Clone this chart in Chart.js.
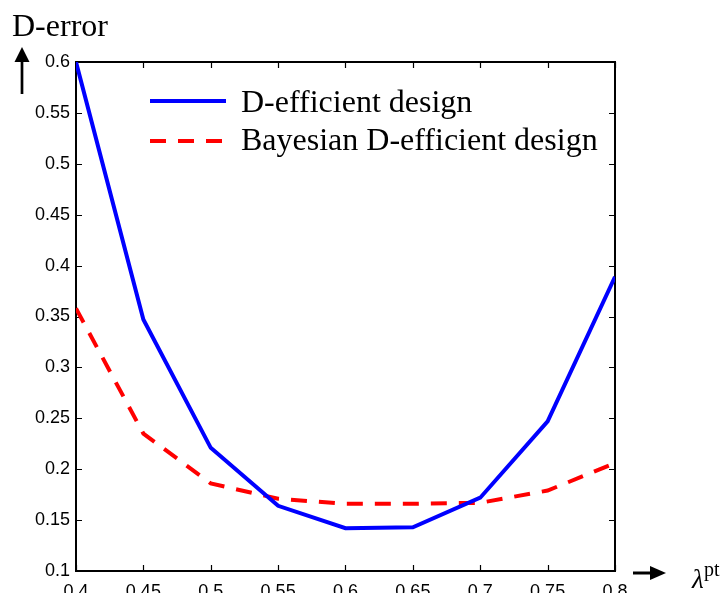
<!DOCTYPE html>
<html><head><meta charset="utf-8">
<script src="https://cdn.jsdelivr.net/npm/chart.js@4/dist/chart.umd.min.js"></script>
<style>html,body{margin:0;padding:0;background:#fff}</style>
</head><body>
<canvas id="c" width="726" height="593"></canvas>
<script>
const lambdaValues = [0.4, 0.45, 0.5, 0.55, 0.6, 0.65, 0.7, 0.75, 0.8];
const dEfficient = [0.600, 0.347, 0.221, 0.164, 0.142, 0.143, 0.172, 0.247, 0.389];
const bayesianDEfficient = [0.358, 0.235, 0.186, 0.171, 0.166, 0.166, 0.167, 0.179, 0.206];
const xTicks = [0.4, 0.45, 0.5, 0.55, 0.6, 0.65, 0.7, 0.75, 0.8];
const yTicks = [0.1, 0.15, 0.2, 0.25, 0.3, 0.35, 0.4, 0.45, 0.5, 0.55, 0.6];
const seriesLabels = ['D-efficient design', 'Bayesian D-efficient design'];
const yAxisTitle = 'D-error';

const fmt = v => String(+v.toFixed(2));
const toPoints = ys => lambdaValues.map((x, i) => ({x, y: ys[i]}));

const framePlugin = {
  id: 'frame',
  beforeDatasetsDraw(chart) {
    const {ctx, chartArea: a, scales} = chart;
    ctx.save();
    ctx.strokeStyle = '#000';
    ctx.lineWidth = 2;
    ctx.strokeRect(a.left, a.top, a.right - a.left, a.bottom - a.top);
    ctx.lineWidth = 1.2;
    const tl = 6;
    ctx.beginPath();
    xTicks.forEach(v => {
      const px = Math.round(scales.x.getPixelForValue(v)) + 0.5;
      ctx.moveTo(px, a.bottom); ctx.lineTo(px, a.bottom - tl);
      ctx.moveTo(px, a.top); ctx.lineTo(px, a.top + tl);
    });
    yTicks.forEach(v => {
      const py = Math.round(scales.y.getPixelForValue(v)) + 0.5;
      ctx.moveTo(a.left, py); ctx.lineTo(a.left + tl, py);
      ctx.moveTo(a.right, py); ctx.lineTo(a.right - tl, py);
    });
    ctx.stroke();
    ctx.restore();
  },
  afterDraw(chart) {
    const {ctx, chartArea: a} = chart;
    ctx.save();
    // legend
    const lx = a.left + 74, lw = 76, tx = a.left + 165;
    const ds = chart.data.datasets;
    ctx.lineWidth = 4;
    ctx.strokeStyle = ds[0].borderColor;
    ctx.beginPath(); ctx.moveTo(lx, a.top + 39); ctx.lineTo(lx + lw, a.top + 39); ctx.stroke();
    ctx.strokeStyle = ds[1].borderColor;
    ctx.setLineDash([16, 12]);
    ctx.beginPath(); ctx.moveTo(lx, a.top + 79); ctx.lineTo(lx + lw, a.top + 79); ctx.stroke();
    ctx.setLineDash([]);
    ctx.fillStyle = '#000';
    ctx.font = '32px "Liberation Serif", "Times New Roman", serif';
    ctx.textBaseline = 'alphabetic';
    ctx.textAlign = 'left';
    ctx.fillText(ds[0].label, tx, a.top + 50);
    ctx.fillText(ds[1].label, tx, a.top + 88);
    // y axis title and arrow
    ctx.fillText(yAxisTitle, 12, 36);
    ctx.strokeStyle = '#000';
    ctx.lineWidth = 2.7;
    ctx.beginPath(); ctx.moveTo(22, 60); ctx.lineTo(22, 94); ctx.stroke();
    ctx.beginPath(); ctx.moveTo(22, 47); ctx.lineTo(29.5, 62); ctx.lineTo(14.5, 62); ctx.closePath(); ctx.fill();
    // x axis arrow and title
    const ay = a.bottom + 2;
    ctx.lineWidth = 3;
    ctx.beginPath(); ctx.moveTo(633, ay); ctx.lineTo(652, ay); ctx.stroke();
    ctx.beginPath(); ctx.moveTo(666, ay); ctx.lineTo(650, ay - 7); ctx.lineTo(650, ay + 7); ctx.closePath(); ctx.fill();
    ctx.font = 'italic 27px "Liberation Serif", "Times New Roman", serif';
    ctx.fillText('\u03BB', 692, 588);
    ctx.font = '20px "Liberation Serif", "Times New Roman", serif';
    ctx.fillText('pt', 704, 576);
    ctx.restore();
  }
};

new Chart(document.getElementById('c'), {
  type: 'line',
  data: {
    datasets: [
      {label: seriesLabels[0], data: toPoints(dEfficient), borderColor: '#0000ff', borderWidth: 4,
       pointRadius: 0, fill: false, tension: 0},
      {label: seriesLabels[1], data: toPoints(bayesianDEfficient), borderColor: '#ff0000', borderWidth: 4,
       borderDash: [16, 12], pointRadius: 0, fill: false, tension: 0}
    ]
  },
  options: {
    responsive: false,
    devicePixelRatio: 1,
    animation: false,
    layout: {padding: {top: 62, right: 111, left: 0, bottom: 0}},
    plugins: {legend: {display: false}, tooltip: {enabled: false}},
    scales: {
      x: {
        type: 'linear', min: 0.4, max: 0.8,
        afterBuildTicks: s => { s.ticks = xTicks.map(v => ({value: v})); },
        afterFit: s => { s.height = 22; },
        grid: {display: false, drawTicks: false}, border: {display: false},
        ticks: {autoSkip: false, maxRotation: 0, padding: 10, color: '#000',
          font: {family: '"Liberation Sans", Arial, sans-serif', size: 18},
          callback: v => fmt(v)}
      },
      y: {
        type: 'linear', min: 0.1, max: 0.6,
        afterBuildTicks: s => { s.ticks = yTicks.map(v => ({value: v})); },
        afterFit: s => { s.width = 76; },
        grid: {display: false, drawTicks: false}, border: {display: false},
        ticks: {padding: 6, color: '#000',
          font: {family: '"Liberation Sans", Arial, sans-serif', size: 18},
          callback: v => fmt(v)}
      }
    }
  },
  plugins: [framePlugin]
});
</script>
</body></html>
